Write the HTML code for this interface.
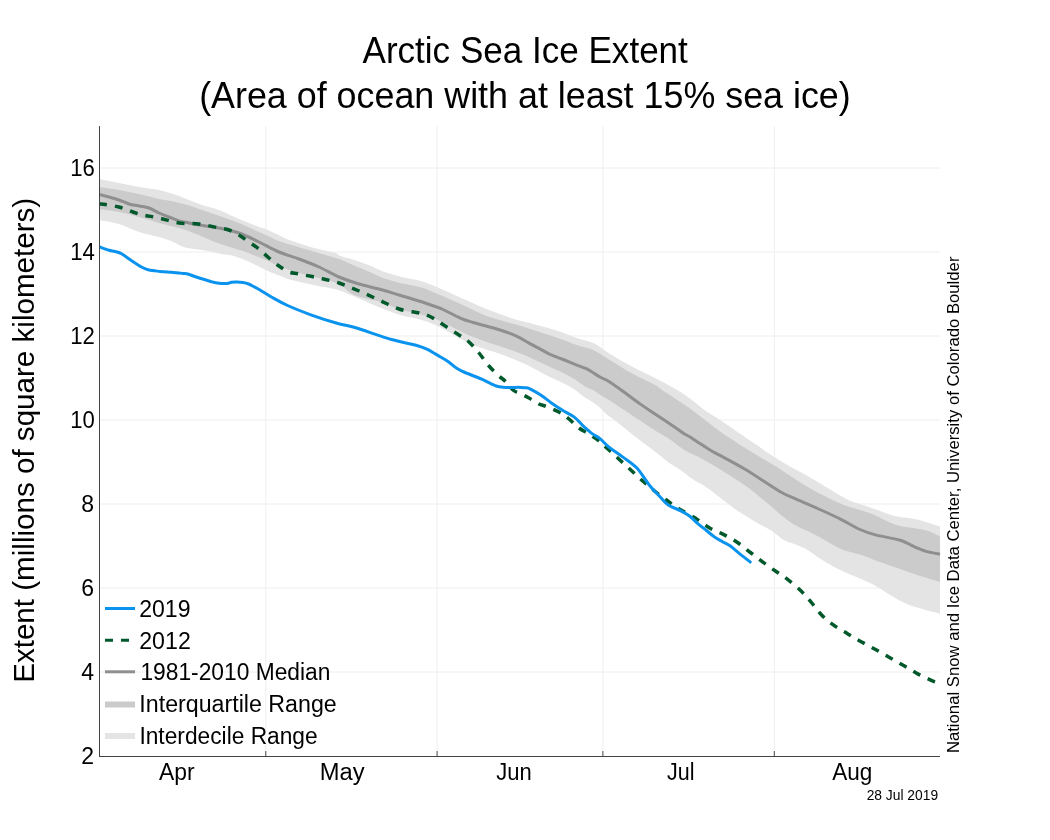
<!DOCTYPE html>
<html><head><meta charset="utf-8"><title>Arctic Sea Ice Extent</title>
<style>html,body{margin:0;padding:0;background:#fff;width:1050px;height:840px;overflow:hidden}
svg{display:block;will-change:transform}
text{font-family:'Liberation Sans', Arial, sans-serif;fill:#000}</style></head>
<body><svg width="1050" height="840" viewBox="0 0 1050 840">
<rect width="1050" height="840" fill="#fff"/>
<defs><clipPath id="pc"><rect x="99" y="120" width="842" height="640"/></clipPath></defs>
<g id="plot" clip-path="url(#pc)">
<line x1="100" x2="940" y1="168.0" y2="168.0" stroke="#eeeeee"/>
<line x1="100" x2="940" y1="252.0" y2="252.0" stroke="#eeeeee"/>
<line x1="100" x2="940" y1="336.0" y2="336.0" stroke="#eeeeee"/>
<line x1="100" x2="940" y1="420.0" y2="420.0" stroke="#eeeeee"/>
<line x1="100" x2="940" y1="504.0" y2="504.0" stroke="#eeeeee"/>
<line x1="100" x2="940" y1="588.0" y2="588.0" stroke="#eeeeee"/>
<line x1="100" x2="940" y1="672.0" y2="672.0" stroke="#eeeeee"/>
<line x1="265.8" x2="265.8" y1="126" y2="750" stroke="#eeeeee"/>
<line x1="437.1" x2="437.1" y1="126" y2="750" stroke="#eeeeee"/>
<line x1="602.9" x2="602.9" y1="126" y2="750" stroke="#eeeeee"/>
<line x1="774.3" x2="774.3" y1="126" y2="750" stroke="#eeeeee"/>
<path d="M99.0,179.0 C102.3,179.7 112.3,181.7 119.0,183.0 C125.7,184.3 132.3,185.8 139.0,187.0 C145.7,188.2 152.3,188.5 159.0,190.0 C165.7,191.5 172.3,193.7 179.0,196.0 C185.7,198.3 192.3,201.7 199.0,204.0 C205.7,206.3 212.3,207.5 219.0,210.0 C225.7,212.5 232.3,216.2 239.0,219.0 C245.7,221.8 254.0,225.1 259.0,227.0 C264.0,228.9 264.0,228.3 269.0,230.4 C274.0,232.5 281.3,236.7 289.0,239.7 C296.7,242.7 307.6,246.0 315.4,248.2 C323.2,250.4 331.5,251.7 335.6,252.9 C339.7,254.2 336.9,254.5 340.0,255.7 C343.1,256.9 349.5,258.4 354.3,260.0 C359.1,261.6 363.8,263.1 368.6,265.0 C373.4,266.9 377.7,269.5 382.9,271.4 C388.1,273.3 393.7,274.8 400.0,276.4 C406.3,278.0 414.1,279.1 420.6,281.0 C427.1,282.9 432.6,285.2 439.0,287.9 C445.4,290.6 451.4,293.6 459.1,297.0 C466.8,300.4 477.1,305.2 485.4,308.6 C493.7,312.0 502.3,315.0 508.7,317.2 C515.1,319.4 516.3,319.5 524.0,321.6 C531.7,323.8 546.0,327.3 555.0,330.1 C564.0,332.9 571.8,336.4 578.2,338.6 C584.7,340.8 588.6,340.9 593.7,343.3 C598.8,345.8 603.1,349.7 609.0,353.3 C614.9,356.9 621.4,360.9 629.1,365.1 C636.8,369.3 647.4,374.2 655.4,378.3 C663.4,382.4 671.3,386.6 677.1,390.0 C682.9,393.4 685.5,395.3 690.0,398.6 C694.5,401.9 699.3,406.4 704.3,410.0 C709.3,413.6 711.4,414.2 720.0,420.0 C728.6,425.8 746.1,437.8 755.9,444.5 C765.7,451.2 770.0,454.5 779.0,460.0 C788.0,465.5 798.9,471.1 810.0,477.5 C821.1,483.9 837.3,494.0 845.6,498.4 C853.9,502.8 855.0,502.1 860.0,503.9 C865.0,505.7 869.6,507.2 875.5,509.3 C881.4,511.4 888.6,514.6 895.6,516.3 C902.6,518.0 909.9,517.7 917.3,519.4 C924.7,521.1 936.2,525.2 940.0,526.4 L940.0,613.8 C936.2,612.8 923.9,609.8 917.3,607.6 C910.7,605.4 907.2,604.3 900.2,600.7 C893.2,597.1 882.2,589.7 875.5,586.0 C868.8,582.3 865.4,581.0 860.0,578.6 C854.6,576.2 848.1,573.6 843.3,571.4 C838.5,569.2 835.4,567.7 831.4,565.5 C827.4,563.3 823.5,560.9 819.5,558.3 C815.5,555.7 811.6,552.3 807.6,550.0 C803.6,547.7 799.7,546.3 795.7,544.6 C791.7,542.9 787.8,542.2 783.8,539.9 C779.8,537.6 775.9,533.6 771.9,531.0 C767.9,528.4 766.0,528.0 760.0,524.4 C754.0,520.8 744.2,515.2 735.8,509.4 C727.4,503.6 716.5,494.3 709.5,489.4 C702.5,484.5 698.9,483.4 694.0,480.1 C689.1,476.8 684.0,472.6 680.0,469.8 C676.0,467.1 673.3,466.0 670.0,463.6 C666.7,461.2 663.7,458.4 660.0,455.5 C656.3,452.6 651.7,449.0 648.0,446.2 C644.3,443.4 641.3,441.4 637.6,438.5 C633.9,435.6 629.7,432.1 625.7,428.9 C621.7,425.7 617.0,421.8 613.8,419.4 C610.6,417.0 608.8,416.4 606.4,414.3 C604.0,412.2 601.7,409.2 599.3,407.1 C596.9,405.0 594.5,403.4 592.1,401.8 C589.7,400.2 588.0,399.6 585.0,397.5 C582.0,395.4 577.6,391.4 573.8,388.9 C569.9,386.4 565.9,384.4 561.9,382.4 C557.9,380.4 556.3,380.2 550.0,377.0 C543.7,373.8 532.2,367.2 524.0,363.4 C515.8,359.6 509.9,357.6 500.9,354.3 C491.9,351.0 480.3,348.1 470.0,343.5 C459.7,338.9 447.2,330.7 439.0,326.7 C430.8,322.7 427.0,321.6 420.6,319.7 C414.2,317.8 407.6,317.2 400.4,315.0 C393.2,312.8 384.9,309.6 377.2,306.5 C369.5,303.4 360.9,299.1 354.0,296.2 C347.1,293.3 342.0,291.0 335.6,289.2 C329.2,287.4 323.0,287.0 315.4,285.4 C307.8,283.8 295.9,281.1 290.0,279.5 C284.1,277.9 283.7,277.1 280.0,275.7 C276.3,274.3 271.7,272.8 267.6,271.0 C263.6,269.2 259.7,266.9 255.7,265.0 C251.7,263.1 247.8,261.2 243.8,259.6 C239.8,258.0 235.9,256.5 231.9,255.5 C227.9,254.5 223.3,254.3 220.0,253.7 C216.7,253.1 215.0,252.4 212.0,251.8 C209.0,251.2 206.0,250.7 201.9,250.0 C197.8,249.3 191.2,248.6 187.6,247.9 C184.0,247.2 182.8,246.7 180.4,245.7 C178.0,244.7 176.9,243.5 173.3,242.1 C169.7,240.7 164.7,238.8 159.0,237.1 C153.3,235.4 145.7,234.2 139.0,232.0 C132.3,229.8 125.7,226.0 119.0,224.0 C112.3,222.0 102.3,220.7 99.0,220.0 Z" fill="#e4e4e4"/>
<path d="M99.0,187.0 C102.3,187.5 112.3,188.8 119.0,190.0 C125.7,191.2 132.3,192.5 139.0,194.0 C145.7,195.5 153.3,197.7 159.0,198.9 C164.7,200.1 168.5,200.4 173.3,201.4 C178.1,202.4 182.8,203.6 187.6,205.0 C192.4,206.4 196.7,208.2 201.9,210.0 C207.1,211.8 212.8,213.5 219.0,215.7 C225.2,217.9 232.3,220.3 239.0,223.0 C245.7,225.7 254.0,229.7 259.0,232.0 C264.0,234.3 265.5,235.0 269.0,236.6 C272.5,238.2 275.8,239.9 280.0,241.4 C284.2,242.9 289.5,244.3 294.3,245.7 C299.1,247.1 303.8,248.6 308.6,250.0 C313.4,251.4 317.7,252.8 322.9,254.3 C328.1,255.9 334.8,257.4 340.0,259.3 C345.2,261.2 349.5,263.7 354.3,265.7 C359.1,267.7 363.8,269.4 368.6,271.4 C373.4,273.4 377.7,276.0 382.9,277.9 C388.1,279.8 393.7,281.3 400.0,282.9 C406.3,284.4 414.1,285.2 420.6,287.2 C427.1,289.1 432.1,291.7 439.0,294.6 C445.9,297.5 454.5,301.3 462.2,304.8 C469.9,308.3 477.6,312.6 485.4,315.6 C493.1,318.6 502.3,320.7 508.7,322.6 C515.1,324.5 516.3,324.6 524.0,327.0 C531.7,329.4 546.0,334.0 555.0,337.1 C564.0,340.2 571.8,343.4 578.2,345.6 C584.7,347.8 588.6,347.9 593.7,350.2 C598.8,352.5 602.6,355.6 609.0,359.5 C615.4,363.4 624.5,369.3 632.2,373.6 C639.9,377.9 650.4,382.5 655.4,385.2 C660.4,387.9 656.3,386.1 662.1,390.0 C667.9,393.9 680.4,401.7 690.0,408.6 C699.6,415.5 709.0,423.7 720.0,431.4 C731.0,439.1 746.1,448.4 755.9,454.6 C765.7,460.8 770.0,462.9 779.0,468.5 C788.0,474.1 799.7,482.4 810.0,488.3 C820.3,494.2 832.6,500.2 840.9,503.8 C849.2,507.4 854.2,508.2 860.0,510.1 C865.8,512.1 869.6,513.0 875.5,515.5 C881.4,518.0 888.6,522.6 895.6,524.8 C902.6,527.0 911.9,527.7 917.3,528.7 C922.7,529.7 924.3,529.7 928.1,531.0 C931.9,532.3 938.0,535.5 940.0,536.4 L940.0,582.1 C936.2,580.9 923.9,577.3 917.3,575.1 C910.7,572.9 907.2,571.5 900.2,569.0 C893.2,566.5 882.2,562.8 875.5,560.4 C868.8,558.0 865.4,556.3 860.0,554.6 C854.6,552.9 848.1,551.8 843.3,550.0 C838.5,548.2 835.4,546.2 831.4,544.0 C827.4,541.8 823.5,539.2 819.5,537.0 C815.5,534.8 811.6,532.9 807.6,531.0 C803.6,529.1 799.7,527.8 795.7,525.5 C791.7,523.2 787.8,520.4 783.8,517.3 C779.8,514.2 777.8,512.0 771.9,507.1 C766.0,502.2 754.9,492.8 748.6,488.0 C742.3,483.2 739.1,481.6 734.3,478.5 C729.5,475.4 723.6,471.6 720.0,469.3 C716.4,467.1 716.5,467.0 712.9,465.0 C709.3,463.0 703.4,459.6 698.6,457.1 C693.8,454.6 689.3,453.1 684.3,450.0 C679.3,446.9 673.6,441.9 668.6,438.6 C663.6,435.3 659.1,433.0 654.3,430.0 C649.5,427.0 644.8,423.8 640.0,420.6 C635.2,417.5 630.1,414.1 625.7,411.1 C621.3,408.2 616.8,405.0 613.6,402.9 C610.4,400.8 608.8,400.0 606.4,398.6 C604.0,397.2 601.7,395.8 599.3,394.3 C596.9,392.8 594.5,390.9 592.1,389.6 C589.7,388.3 588.0,388.2 585.0,386.4 C582.0,384.6 577.6,381.1 573.8,378.8 C569.9,376.5 565.9,374.3 561.9,372.3 C557.9,370.3 556.3,369.8 550.0,366.9 C543.7,364.0 532.2,358.3 524.0,354.9 C515.8,351.5 509.9,349.8 500.9,346.6 C491.9,343.4 480.3,340.1 470.0,335.7 C459.7,331.3 447.2,324.0 439.0,320.4 C430.8,316.8 427.0,316.0 420.6,314.2 C414.2,312.4 407.6,311.8 400.4,309.6 C393.2,307.4 384.9,303.6 377.2,301.1 C369.5,298.7 360.4,297.8 354.0,294.9 C347.6,292.0 344.8,286.8 339.0,284.0 C333.2,281.2 325.7,279.8 319.0,278.0 C312.3,276.2 305.5,274.9 299.0,273.0 C292.5,271.1 285.2,268.8 280.0,266.8 C274.8,264.8 271.7,262.6 267.6,260.8 C263.6,259.0 259.7,257.7 255.7,256.1 C251.7,254.5 247.8,252.7 243.8,251.3 C239.8,249.9 236.0,249.0 231.9,247.7 C227.8,246.4 224.0,245.5 219.0,243.6 C214.0,241.7 207.1,238.6 201.9,236.4 C196.7,234.2 192.4,232.4 187.6,230.7 C182.8,229.0 178.1,227.7 173.3,226.4 C168.5,225.1 164.7,224.5 159.0,222.9 C153.3,221.3 145.7,218.8 139.0,217.0 C132.3,215.2 125.7,213.3 119.0,212.0 C112.3,210.7 102.3,209.5 99.0,209.0 Z" fill="#cbcbcb"/>
<path d="M99.0,194.4 C100.7,194.8 105.7,196.1 109.0,197.0 C112.3,197.9 115.7,198.8 119.0,200.0 C122.3,201.2 125.7,203.0 129.0,204.0 C132.3,205.0 135.7,205.3 139.0,206.0 C142.3,206.7 145.7,206.8 149.0,208.0 C152.3,209.2 155.7,211.5 159.0,213.0 C162.3,214.5 165.7,215.7 169.0,217.0 C172.3,218.3 175.7,220.0 179.0,221.0 C182.3,222.0 185.7,222.3 189.0,223.0 C192.3,223.7 194.0,224.2 199.0,225.0 C204.0,225.8 212.3,226.7 219.0,228.0 C225.7,229.3 232.3,230.7 239.0,233.0 C245.7,235.3 252.3,238.8 259.0,242.0 C265.7,245.2 272.3,249.2 279.0,252.0 C285.7,254.8 292.3,256.5 299.0,259.0 C305.7,261.5 312.3,264.0 319.0,267.0 C325.7,270.0 332.3,274.2 339.0,277.0 C345.7,279.8 352.3,282.0 359.0,284.0 C365.7,286.0 372.3,287.2 379.0,289.0 C385.7,290.8 392.3,293.0 399.0,295.0 C405.7,297.0 412.3,298.9 419.0,301.0 C425.7,303.1 435.0,306.4 439.0,307.8 C443.0,309.2 439.4,307.8 443.0,309.5 C446.6,311.2 455.8,316.1 460.8,318.3 C465.9,320.5 469.1,321.2 473.3,322.5 C477.5,323.8 481.6,324.8 486.0,326.0 C490.4,327.2 495.9,328.7 500.0,330.0 C504.1,331.3 507.4,332.3 510.7,333.6 C514.0,334.9 517.0,336.3 520.0,337.9 C523.0,339.4 525.4,341.1 528.6,342.9 C531.8,344.7 535.7,346.7 539.3,348.6 C542.9,350.5 546.2,352.6 550.0,354.3 C553.8,356.0 557.9,357.4 561.9,359.0 C565.9,360.6 569.8,362.3 573.8,363.9 C577.8,365.5 582.7,367.1 585.7,368.4 C588.7,369.7 589.3,370.3 591.7,371.7 C594.1,373.1 597.1,375.4 600.0,377.0 C602.9,378.6 605.0,378.9 609.0,381.4 C613.0,383.9 618.8,388.2 624.0,392.0 C629.2,395.8 635.0,400.3 640.0,403.9 C645.0,407.5 649.5,410.4 654.3,413.6 C659.1,416.8 663.8,419.7 668.6,422.9 C673.4,426.1 679.3,430.5 682.9,432.9 C686.5,435.2 687.1,435.2 690.0,437.0 C692.9,438.8 696.7,441.4 700.0,443.6 C703.3,445.8 706.7,448.0 710.0,450.0 C713.3,452.0 714.1,452.2 720.0,455.4 C725.9,458.6 735.3,463.4 745.1,469.3 C754.9,475.2 770.8,486.1 779.0,491.0 C787.2,495.9 788.0,495.5 794.5,498.4 C801.0,501.3 810.0,505.0 817.7,508.5 C825.4,512.0 833.9,515.8 840.9,519.3 C847.9,522.8 854.2,526.9 860.0,529.5 C865.8,532.1 868.8,533.1 875.5,534.9 C882.2,536.7 893.2,538.1 900.2,540.3 C907.2,542.5 912.6,546.1 917.3,548.0 C921.9,549.9 924.3,550.9 928.1,551.9 C931.9,552.9 938.0,553.8 940.0,554.2" fill="none" stroke="#8f8f8f" stroke-width="3" stroke-linejoin="round"/>
<path d="M99.0,203.6 C102.3,204.2 112.3,205.3 119.0,207.0 C125.7,208.7 132.3,212.2 139.0,214.0 C145.7,215.8 152.3,216.5 159.0,218.0 C165.7,219.5 172.3,222.0 179.0,223.0 C185.7,224.0 192.3,223.2 199.0,224.0 C205.7,224.8 214.0,227.0 219.0,228.0 C224.0,229.0 225.7,228.8 229.0,230.0 C232.3,231.2 235.7,233.0 239.0,235.0 C242.3,237.0 245.7,239.7 249.0,242.0 C252.3,244.3 255.7,246.3 259.0,249.0 C262.3,251.7 265.7,255.2 269.0,258.0 C272.3,260.8 275.7,263.7 279.0,266.0 C282.3,268.3 285.7,270.7 289.0,272.0 C292.3,273.3 294.0,273.0 299.0,274.0 C304.0,275.0 312.3,276.5 319.0,278.0 C325.7,279.5 332.3,280.8 339.0,283.0 C345.7,285.2 352.3,288.2 359.0,291.0 C365.7,293.8 372.3,297.0 379.0,300.0 C385.7,303.0 392.3,306.8 399.0,309.0 C405.7,311.2 414.0,311.8 419.0,313.0 C424.0,314.2 425.7,314.5 429.0,316.0 C432.3,317.5 434.0,318.8 439.0,322.0 C444.0,325.2 454.0,331.7 459.0,335.0 C464.0,338.3 465.7,339.0 469.0,342.0 C472.3,345.0 475.7,349.0 479.0,353.0 C482.3,357.0 485.7,362.2 489.0,366.0 C492.3,369.8 496.3,373.5 499.0,376.0 C501.7,378.5 502.7,378.7 505.0,381.0 C507.3,383.3 510.7,388.0 513.0,390.0 C515.3,392.0 516.3,391.7 519.0,393.0 C521.7,394.3 525.7,396.2 529.0,398.0 C532.3,399.8 536.3,402.7 539.0,404.0 C541.7,405.3 541.7,404.7 545.0,406.0 C548.3,407.3 555.0,409.8 559.0,412.0 C563.0,414.2 565.7,416.3 569.0,419.0 C572.3,421.7 575.7,425.5 579.0,428.0 C582.3,430.5 585.7,431.8 589.0,434.0 C592.3,436.2 595.7,438.3 599.0,441.0 C602.3,443.7 605.3,446.7 609.0,450.0 C612.7,453.3 617.0,457.3 621.0,461.0 C625.0,464.7 629.0,468.3 633.0,472.0 C637.0,475.7 641.0,479.5 645.0,483.0 C649.0,486.5 653.0,489.8 657.0,493.0 C661.0,496.2 665.0,499.2 669.0,502.0 C673.0,504.8 676.5,507.2 681.0,510.0 C685.5,512.8 691.5,515.8 696.3,518.8 C701.1,521.8 705.0,525.3 709.6,527.9 C714.2,530.5 719.1,532.2 723.8,534.6 C728.4,537.0 733.1,539.5 737.5,542.5 C741.9,545.5 746.2,549.2 750.4,552.5 C754.6,555.8 758.7,559.0 762.9,562.1 C767.1,565.2 771.6,568.4 775.8,571.3 C780.0,574.2 783.7,576.3 787.9,579.6 C792.1,582.9 797.2,587.3 801.1,591.1 C805.0,594.9 808.1,598.6 811.5,602.6 C814.9,606.6 817.9,611.2 821.6,615.0 C825.4,618.8 829.6,622.2 834.0,625.4 C838.4,628.5 843.3,631.1 847.9,633.9 C852.5,636.7 857.0,639.4 861.7,642.0 C866.4,644.6 871.3,647.2 876.0,649.8 C880.7,652.4 885.3,655.1 889.9,657.7 C894.5,660.3 899.0,662.9 903.6,665.5 C908.2,668.1 912.6,671.1 917.3,673.6 C922.0,676.1 928.7,679.2 931.8,680.6 C934.9,682.0 935.1,681.9 935.8,682.2" fill="none" stroke="#00592a" stroke-width="3.5" stroke-dasharray="8,8" stroke-linejoin="round"/>
<path d="M99.0,246.7 C100.7,247.3 106.3,249.5 109.0,250.3 C111.7,251.1 112.8,250.9 115.0,251.5 C117.2,252.1 119.2,252.4 122.0,254.0 C124.8,255.6 128.7,258.8 132.0,261.0 C135.3,263.2 139.2,265.8 142.0,267.3 C144.8,268.8 146.0,269.3 149.0,270.0 C152.0,270.7 156.3,271.0 160.0,271.4 C163.7,271.8 167.6,272.0 171.4,272.3 C175.2,272.6 180.0,273.1 182.9,273.4 C185.8,273.7 185.8,273.5 188.6,274.3 C191.4,275.1 196.2,277.1 200.0,278.3 C203.8,279.5 208.6,280.9 211.4,281.7 C214.2,282.5 214.4,282.6 217.0,282.9 C219.6,283.2 224.5,283.5 226.9,283.4 C229.3,283.3 229.7,282.5 231.4,282.3 C233.1,282.1 235.2,281.9 237.1,282.0 C239.0,282.1 241.0,282.3 242.9,282.6 C244.8,282.9 246.7,283.3 248.6,284.0 C250.5,284.7 252.4,285.9 254.3,286.9 C256.2,287.9 257.0,288.2 260.0,290.0 C263.0,291.8 267.7,294.9 272.3,297.5 C276.9,300.1 281.2,302.6 287.6,305.5 C294.0,308.4 302.6,311.8 310.8,314.8 C319.1,317.8 329.9,321.2 337.1,323.3 C344.3,325.4 344.7,324.6 354.0,327.3 C363.3,330.1 382.4,336.8 392.7,339.8 C403.0,342.8 410.3,343.6 416.0,345.2 C421.7,346.8 422.8,347.2 426.8,349.1 C430.8,351.0 436.4,354.6 440.0,356.7 C443.6,358.8 445.5,359.8 448.3,361.7 C451.1,363.6 453.9,366.5 456.7,368.3 C459.5,370.1 460.8,370.7 465.0,372.5 C469.2,374.3 476.5,376.9 481.7,379.2 C486.9,381.4 492.8,384.7 496.3,386.0 C499.9,387.3 500.4,387.0 503.0,387.2 C505.6,387.4 509.0,387.4 512.0,387.4 C515.0,387.4 518.5,387.3 521.0,387.4 C523.5,387.5 525.5,387.6 527.0,387.8 C528.5,388.1 527.7,387.7 530.0,388.9 C532.3,390.1 537.1,392.7 540.7,395.0 C544.3,397.3 547.8,400.4 551.4,402.9 C555.0,405.4 558.3,407.6 562.1,410.0 C565.9,412.4 570.7,414.4 574.3,417.1 C577.9,419.8 580.6,423.6 583.6,426.4 C586.6,429.1 589.4,431.6 592.1,433.6 C594.8,435.6 597.2,436.4 600.0,438.6 C602.8,440.9 605.2,444.0 609.0,447.1 C612.8,450.2 618.2,453.6 622.9,457.1 C627.5,460.6 632.5,463.4 636.9,468.0 C641.3,472.6 645.4,480.2 649.2,485.0 C653.1,489.8 656.8,493.4 660.0,496.7 C663.2,500.0 664.8,502.6 668.3,505.0 C671.8,507.4 677.3,509.0 680.8,510.8 C684.3,512.6 686.4,513.7 689.2,515.8 C692.0,517.9 694.7,520.9 697.5,523.3 C700.3,525.7 703.0,527.8 705.8,530.0 C708.6,532.2 711.4,534.8 714.2,536.7 C717.0,538.7 719.9,540.2 722.5,541.7 C725.1,543.2 727.0,543.7 730.0,545.8 C733.0,547.9 736.9,551.5 740.4,554.3 C743.9,557.1 749.5,561.4 751.3,562.8" fill="none" stroke="#0a93ee" stroke-width="3" stroke-linejoin="round"/>
</g>
<g id="axes">
<line x1="99.5" x2="99.5" y1="126" y2="757" stroke="#444444"/>
<line x1="99" x2="940" y1="756.5" y2="756.5" stroke="#444444"/>
<line x1="265.8" x2="265.8" y1="751" y2="756" stroke="#444444"/>
<line x1="437.1" x2="437.1" y1="751" y2="756" stroke="#444444"/>
<line x1="602.9" x2="602.9" y1="751" y2="756" stroke="#444444"/>
<line x1="774.3" x2="774.3" y1="751" y2="756" stroke="#444444"/>
</g>
<g id="legend">
<line x1="105" x2="135" y1="608.5" y2="608.5" stroke="#0a93ee" stroke-width="3"/>
<line x1="105" x2="135" y1="640.3" y2="640.3" stroke="#00592a" stroke-width="3" stroke-dasharray="8,8"/>
<line x1="105" x2="135" y1="671.8" y2="671.8" stroke="#8f8f8f" stroke-width="3"/>
<line x1="105" x2="135" y1="704.5" y2="704.5" stroke="#cbcbcb" stroke-width="6"/>
<line x1="105" x2="135" y1="736.0" y2="736.0" stroke="#e4e4e4" stroke-width="6"/>
</g>
<g id="texts">
<text id="leg0" x="139.20" y="617.00" font-size="23" text-anchor="start" textLength="51.28" lengthAdjust="spacingAndGlyphs">2019</text>
<text id="leg1" x="139.19" y="648.70" font-size="23" text-anchor="start" textLength="51.59" lengthAdjust="spacingAndGlyphs">2012</text>
<text id="leg2" x="140.41" y="680.40" font-size="23" text-anchor="start" textLength="190.00" lengthAdjust="spacingAndGlyphs">1981-2010 Median</text>
<text id="leg3" x="139.38" y="712.10" font-size="23" text-anchor="start" textLength="197.35" lengthAdjust="spacingAndGlyphs">Interquartile Range</text>
<text id="leg4" x="139.42" y="743.80" font-size="23" text-anchor="start" textLength="178.26" lengthAdjust="spacingAndGlyphs">Interdecile Range</text>
<text id="tick16" x="70.17" y="175.70" font-size="23" text-anchor="start" textLength="24.59" lengthAdjust="spacingAndGlyphs">16</text>
<text id="tick14" x="70.17" y="259.70" font-size="23" text-anchor="start" textLength="24.59" lengthAdjust="spacingAndGlyphs">14</text>
<text id="tick12" x="70.17" y="343.70" font-size="23" text-anchor="start" textLength="24.59" lengthAdjust="spacingAndGlyphs">12</text>
<text id="tick10" x="70.17" y="427.70" font-size="23" text-anchor="start" textLength="24.59" lengthAdjust="spacingAndGlyphs">10</text>
<text id="tick8" x="94.00" y="511.70" font-size="23" text-anchor="end">8</text>
<text id="tick6" x="94.00" y="595.70" font-size="23" text-anchor="end">6</text>
<text id="tick4" x="94.00" y="679.70" font-size="23" text-anchor="end">4</text>
<text id="tick2" x="94.00" y="763.70" font-size="23" text-anchor="end">2</text>
<text id="mApr" x="159.00" y="780.00" font-size="23" text-anchor="start" textLength="35.60" lengthAdjust="spacingAndGlyphs">Apr</text>
<text id="mMay" x="319.76" y="780.00" font-size="23" text-anchor="start" textLength="44.83" lengthAdjust="spacingAndGlyphs">May</text>
<text id="mJun" x="496.24" y="780.00" font-size="23" text-anchor="start" textLength="35.50" lengthAdjust="spacingAndGlyphs">Jun</text>
<text id="mJul" x="666.97" y="780.00" font-size="23" text-anchor="start" textLength="27.45" lengthAdjust="spacingAndGlyphs">Jul</text>
<text id="mAug" x="832.13" y="780.00" font-size="23" text-anchor="start" textLength="40.12" lengthAdjust="spacingAndGlyphs">Aug</text>
<text id="title1" x="362.52" y="62.90" font-size="36" text-anchor="start" textLength="325.35" lengthAdjust="spacingAndGlyphs">Arctic Sea Ice Extent</text>
<text id="title2" x="199.13" y="108.20" font-size="36" text-anchor="start" textLength="651.64" lengthAdjust="spacingAndGlyphs">(Area of ocean with at least 15% sea ice)</text>
<text id="ytitle" transform="translate(34.20,682.84) rotate(-90)" font-size="29" text-anchor="start" textLength="485.02" lengthAdjust="spacingAndGlyphs">Extent (millions of square kilometers)</text>
<text id="right" transform="translate(959.00,753.11) rotate(-90)" font-size="16.6" text-anchor="start" textLength="496.59" lengthAdjust="spacingAndGlyphs">National Snow and Ice Data Center, University of Colorado Boulder</text>
<text id="date" x="866.63" y="800.20" font-size="14.5" text-anchor="start" textLength="71.44" lengthAdjust="spacingAndGlyphs">28 Jul 2019</text>
</g>
</svg></body></html>
